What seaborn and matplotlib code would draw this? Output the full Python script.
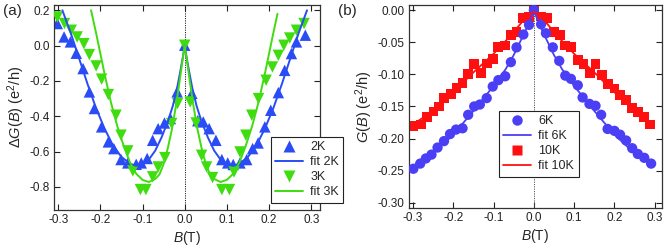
import numpy as np
import pandas as pd
import matplotlib
matplotlib.use("Agg")
import matplotlib.pyplot as plt
import seaborn as sns
from matplotlib.lines import Line2D

# ---------------- data panel (a) ----------------
b_2k = [-0.302, -0.286, -0.271, -0.257, -0.241, -0.226, -0.214, -0.197, -0.181, -0.168,
        -0.151, -0.135, -0.115, -0.103, -0.089, -0.076, -0.063, -0.048, -0.034, -0.018,
        0.000, 0.017, 0.031, 0.044, 0.058, 0.074, 0.088, 0.102, 0.115, 0.131, 0.147,
        0.161, 0.174, 0.190, 0.204, 0.222, 0.237, 0.253, 0.265, 0.286]
g_2k = [0.125, 0.049, 0.021, -0.043, -0.130, -0.262, -0.356, -0.460, -0.545, -0.583,
        -0.645, -0.664, -0.672, -0.664, -0.639, -0.536, -0.470, -0.438, -0.413, -0.262,
        0.002, -0.270, -0.425, -0.432, -0.470, -0.536, -0.645, -0.664, -0.673, -0.664, -0.645,
        -0.583, -0.551, -0.460, -0.366, -0.266, -0.140, -0.045, 0.021, 0.059]

b_3k = [-0.302, -0.285, -0.269, -0.255, -0.239, -0.226, -0.210, -0.197, -0.181, -0.163,
        -0.151, -0.135, -0.123, -0.105, -0.092, -0.076, -0.063, -0.047, -0.031, -0.017,
        0.000, 0.013, 0.027, 0.040, 0.052, 0.066, 0.088, 0.106, 0.117, 0.131, 0.145,
        0.159, 0.175, 0.193, 0.208, 0.222, 0.235, 0.249, 0.265, 0.283]
g_3k = [0.162, 0.125, 0.087, 0.049, 0.011, -0.051, -0.115, -0.190, -0.277, -0.394,
        -0.507, -0.596, -0.709, -0.815, -0.815, -0.743, -0.687, -0.634, -0.441, -0.328,
        0.002, -0.319, -0.438, -0.621, -0.687, -0.747, -0.815, -0.815, -0.715, -0.602, -0.507,
        -0.394, -0.300, -0.196, -0.121, -0.055, 0.002, 0.043, 0.087, 0.125]

fit2k_b = [-0.290, -0.270, -0.250, -0.230, -0.210, -0.190, -0.170, -0.150, -0.130, -0.115,
           -0.100, -0.085, -0.070, -0.055, -0.040, -0.028, -0.018, -0.010, -0.004, 0.000,
           0.004, 0.010, 0.018, 0.028, 0.040, 0.055, 0.070, 0.085, 0.100, 0.115,
           0.130, 0.150, 0.170, 0.190, 0.210, 0.230, 0.250, 0.270, 0.290]
fit2k_g = [0.20, 0.07, -0.075, -0.22, -0.355, -0.47, -0.565, -0.63, -0.668, -0.68,
           -0.672, -0.645, -0.595, -0.52, -0.43, -0.34, -0.24, -0.14, -0.06, 0.0,
           -0.06, -0.14, -0.24, -0.34, -0.43, -0.52, -0.595, -0.645, -0.672, -0.68,
           -0.668, -0.63, -0.565, -0.47, -0.355, -0.22, -0.075, 0.07, 0.20]

fit3k_b = [-0.222, -0.210, -0.200, -0.190, -0.175, -0.160, -0.145, -0.130, -0.115, -0.100,
           -0.085, -0.070, -0.060, -0.050, -0.040, -0.030, -0.020, -0.012, -0.005, 0.000,
           0.005, 0.012, 0.020, 0.030, 0.040, 0.050, 0.060, 0.070, 0.085, 0.100,
           0.115, 0.130, 0.145, 0.160, 0.175, 0.190, 0.200, 0.210, 0.220]
fit3k_g = [0.20, 0.07, -0.045, -0.16, -0.32, -0.455, -0.565, -0.66, -0.725, -0.76,
           -0.772, -0.755, -0.73, -0.67, -0.58, -0.47, -0.33, -0.20, -0.08, 0.0,
           -0.08, -0.20, -0.33, -0.47, -0.58, -0.67, -0.73, -0.755, -0.772, -0.76,
           -0.725, -0.66, -0.565, -0.455, -0.32, -0.16, -0.045, 0.07, 0.18]

# ---------------- data panel (b) ----------------
b_6k = [-0.299, -0.282, -0.268, -0.254, -0.239, -0.223, -0.208, -0.193, -0.177, -0.163,
        -0.148, -0.134, -0.117, -0.102, -0.088, -0.071, -0.057, -0.043, -0.026, -0.012,
        0.000, 0.018, 0.030, 0.047, 0.063, 0.078, 0.092, 0.109, 0.121, 0.138, 0.153,
        0.167, 0.183, 0.200, 0.214, 0.229, 0.244, 0.258, 0.274, 0.291]
g_6k = [-0.247, -0.239, -0.231, -0.225, -0.214, -0.204, -0.193, -0.186, -0.184, -0.163,
        -0.150, -0.147, -0.137, -0.119, -0.109, -0.103, -0.081, -0.058, -0.038, -0.023,
        0.000, -0.022, -0.036, -0.058, -0.079, -0.102, -0.107, -0.117, -0.136, -0.146, -0.149,
        -0.163, -0.185, -0.188, -0.194, -0.203, -0.215, -0.224, -0.230, -0.239]

b_10k = [-0.299, -0.280, -0.266, -0.249, -0.235, -0.222, -0.206, -0.192, -0.177, -0.163,
         -0.148, -0.131, -0.117, -0.102, -0.088, -0.071, -0.057, -0.043, -0.027, -0.012,
         0.000, 0.017, 0.034, 0.051, 0.065, 0.078, 0.092, 0.109, 0.123, 0.139, 0.153,
         0.169, 0.183, 0.200, 0.214, 0.229, 0.244, 0.258, 0.274, 0.288]
g_10k = [-0.180, -0.178, -0.166, -0.158, -0.150, -0.137, -0.131, -0.121, -0.114, -0.100,
         -0.084, -0.098, -0.083, -0.076, -0.058, -0.055, -0.039, -0.034, -0.012, -0.011,
         0.003, -0.010, -0.012, -0.034, -0.039, -0.055, -0.058, -0.078, -0.084, -0.098, -0.084,
         -0.101, -0.115, -0.122, -0.132, -0.140, -0.152, -0.159, -0.166, -0.178]

fit6k_b = [-0.300, -0.250, -0.200, -0.150, -0.100, -0.070, -0.050, -0.030, -0.015, -0.005, 0.000,
           0.005, 0.015, 0.030, 0.050, 0.070, 0.100, 0.150, 0.200, 0.250, 0.290]
fit6k_g = [-0.243, -0.223, -0.194, -0.157, -0.118, -0.092, -0.070, -0.044, -0.024, -0.009, 0.000,
           -0.009, -0.024, -0.044, -0.070, -0.092, -0.118, -0.157, -0.194, -0.223, -0.240]

fit10k_b = [-0.300, -0.250, -0.200, -0.150, -0.100, -0.070, -0.050, -0.030, -0.015, -0.005, 0.000,
            0.005, 0.015, 0.030, 0.050, 0.070, 0.100, 0.150, 0.200, 0.250, 0.290]
fit10k_g = [-0.178, -0.157, -0.128, -0.097, -0.068, -0.048, -0.034, -0.019, -0.009, -0.004, -0.003,
            -0.004, -0.009, -0.019, -0.034, -0.048, -0.068, -0.097, -0.128, -0.157, -0.175]

xticks = [-0.3, -0.2, -0.1, 0.0, 0.1, 0.2, 0.3]
xticklabels = ["-0.3", "-0.2", "-0.1", "0.0", "0.1", "0.2", "0.3"]
yticks_a = [0.2, 0.0, -0.2, -0.4, -0.6, -0.8]
yticklabels_a = ["0.2", "0.0", "-0.2", "-0.4", "-0.6", "-0.8"]
yticks_b = [0.0, -0.05, -0.10, -0.15, -0.20, -0.25, -0.30]
yticklabels_b = ["0.00", "-0.05", "-0.10", "-0.15", "-0.20", "-0.25", "-0.30"]

C_2K = "#2a4cf5"
C_3K = "#3fdc10"
C_6K = "#4a3ff5"
C_10K = "#ff1010"

sns.set_theme(style="ticks")
plt.rcParams["font.family"] = ["Liberation Sans", "DejaVu Sans"]
plt.rcParams["mathtext.fontset"] = "custom"
plt.rcParams["mathtext.rm"] = "Liberation Sans"
plt.rcParams["mathtext.it"] = "Liberation Sans:italic"
plt.rcParams["axes.unicode_minus"] = False

fig = plt.figure(figsize=(6.66, 2.49), dpi=100)
ax1 = fig.add_axes([0.081, 0.157, 0.399, 0.823])
ax2 = fig.add_axes([0.614, 0.165, 0.380, 0.815])

d2 = pd.DataFrame({"B": b_2k, "G": g_2k})
d3 = pd.DataFrame({"B": b_3k, "G": g_3k})
f2 = pd.DataFrame({"B": fit2k_b, "G": fit2k_g})
f3 = pd.DataFrame({"B": fit3k_b, "G": fit3k_g})

ax1.axvline(0, color="#222222", lw=0.7, ls=(0, (1.2, 1.2)), zorder=1)
sns.scatterplot(data=d2, x="B", y="G", ax=ax1, marker="^", s=68, color=C_2K,
                edgecolor="none", zorder=2, legend=False)
sns.scatterplot(data=d3, x="B", y="G", ax=ax1, marker="v", s=68, color=C_3K,
                edgecolor="none", zorder=3, legend=False)
sns.lineplot(data=f2, x="B", y="G", ax=ax1, color=C_2K, lw=1.4, sort=False,
             estimator=None, zorder=4, legend=False)
sns.lineplot(data=f3, x="B", y="G", ax=ax1, color=C_3K, lw=1.4, sort=False,
             estimator=None, zorder=4, legend=False)

d6 = pd.DataFrame({"B": b_6k, "G": g_6k})
d10 = pd.DataFrame({"B": b_10k, "G": g_10k})
f6 = pd.DataFrame({"B": fit6k_b, "G": fit6k_g})
f10 = pd.DataFrame({"B": fit10k_b, "G": fit10k_g})

ax2.axvline(0, color="#555555", lw=0.7, ls=(0, (1.2, 1.2)), zorder=1)
sns.scatterplot(data=d10, x="B", y="G", ax=ax2, marker="s", s=50, color=C_10K,
                edgecolor="none", zorder=2, legend=False)
sns.scatterplot(data=d6, x="B", y="G", ax=ax2, marker="o", s=55, color=C_6K,
                edgecolor="none", zorder=3, legend=False)
sns.lineplot(data=f6, x="B", y="G", ax=ax2, color=C_6K, lw=1.3, sort=False,
             estimator=None, zorder=4, legend=False)
sns.lineplot(data=f10, x="B", y="G", ax=ax2, color=C_10K, lw=1.3, sort=False,
             estimator=None, zorder=4, legend=False)

for ax in (ax1, ax2):
    ax.set_xlim(-0.31, 0.32)
    ax.set_xticks(xticks)
    ax.set_xticklabels(xticklabels)
    ax.tick_params(direction="in", top=True, right=True, length=4, width=0.8,
                   labelsize=8.5, pad=3, colors="#222222")
    for sp in ax.spines.values():
        sp.set_linewidth(0.9)
        sp.set_color("#333333")
    ax.set_xlabel(r"$\mathit{B}$(T)", fontsize=10, labelpad=2)

ax1.set_ylim(-0.93, 0.23)
ax1.set_yticks(yticks_a)
ax1.set_yticklabels(yticklabels_a)
ax1.set_ylabel(r"$\Delta\mathit{G}(\mathit{B})$ (e$^{2}$/h)", fontsize=10.5, labelpad=2)

ax2.set_xlim(-0.31, 0.318)
ax2.set_ylim(-0.308, 0.008)
ax2.set_yticks(yticks_b)
ax2.set_yticklabels(yticklabels_b)
ax2.set_ylabel(r"$\mathit{G}(\mathit{B})$ (e$^{2}$/h)", fontsize=10.5, labelpad=2)

h_a = [Line2D([], [], ls="none", marker="^", ms=8, color=C_2K, mec="none"),
       Line2D([], [], color=C_2K, lw=1.4),
       Line2D([], [], ls="none", marker="v", ms=8, color=C_3K, mec="none"),
       Line2D([], [], color=C_3K, lw=1.4)]
leg1 = ax1.legend(h_a, ["2K", "fit 2K", "3K", "fit 3K"], loc="lower left",
                  bbox_to_anchor=(0.816, 0.035), fontsize=9, frameon=True,
                  fancybox=False, edgecolor="#222222", framealpha=1,
                  handlelength=2.2, handletextpad=0.6, labelspacing=0.25,
                  borderpad=0.35, borderaxespad=0)
leg1.get_frame().set_linewidth(0.8)
leg1.set_zorder(10)

h_b = [Line2D([], [], ls="none", marker="o", ms=7.5, color=C_6K, mec="none"),
       Line2D([], [], color=C_6K, lw=1.3),
       Line2D([], [], ls="none", marker="s", ms=7, color=C_10K, mec="none"),
       Line2D([], [], color=C_10K, lw=1.3)]
leg2 = ax2.legend(h_b, ["6K", "fit 6K", "10K", "fit 10K"], loc="lower left",
                  bbox_to_anchor=(0.356, 0.153), fontsize=9, frameon=True,
                  fancybox=False, edgecolor="#222222", framealpha=1,
                  handlelength=2.2, handletextpad=0.6, labelspacing=0.25,
                  borderpad=0.35, borderaxespad=0)
leg2.get_frame().set_linewidth(0.8)

fig.text(0.005, 0.985, "(a)", fontsize=11, ha="left", va="top")
fig.text(0.508, 0.985, "(b)", fontsize=11, ha="left", va="top")

fig.savefig("out.png", dpi=100)
